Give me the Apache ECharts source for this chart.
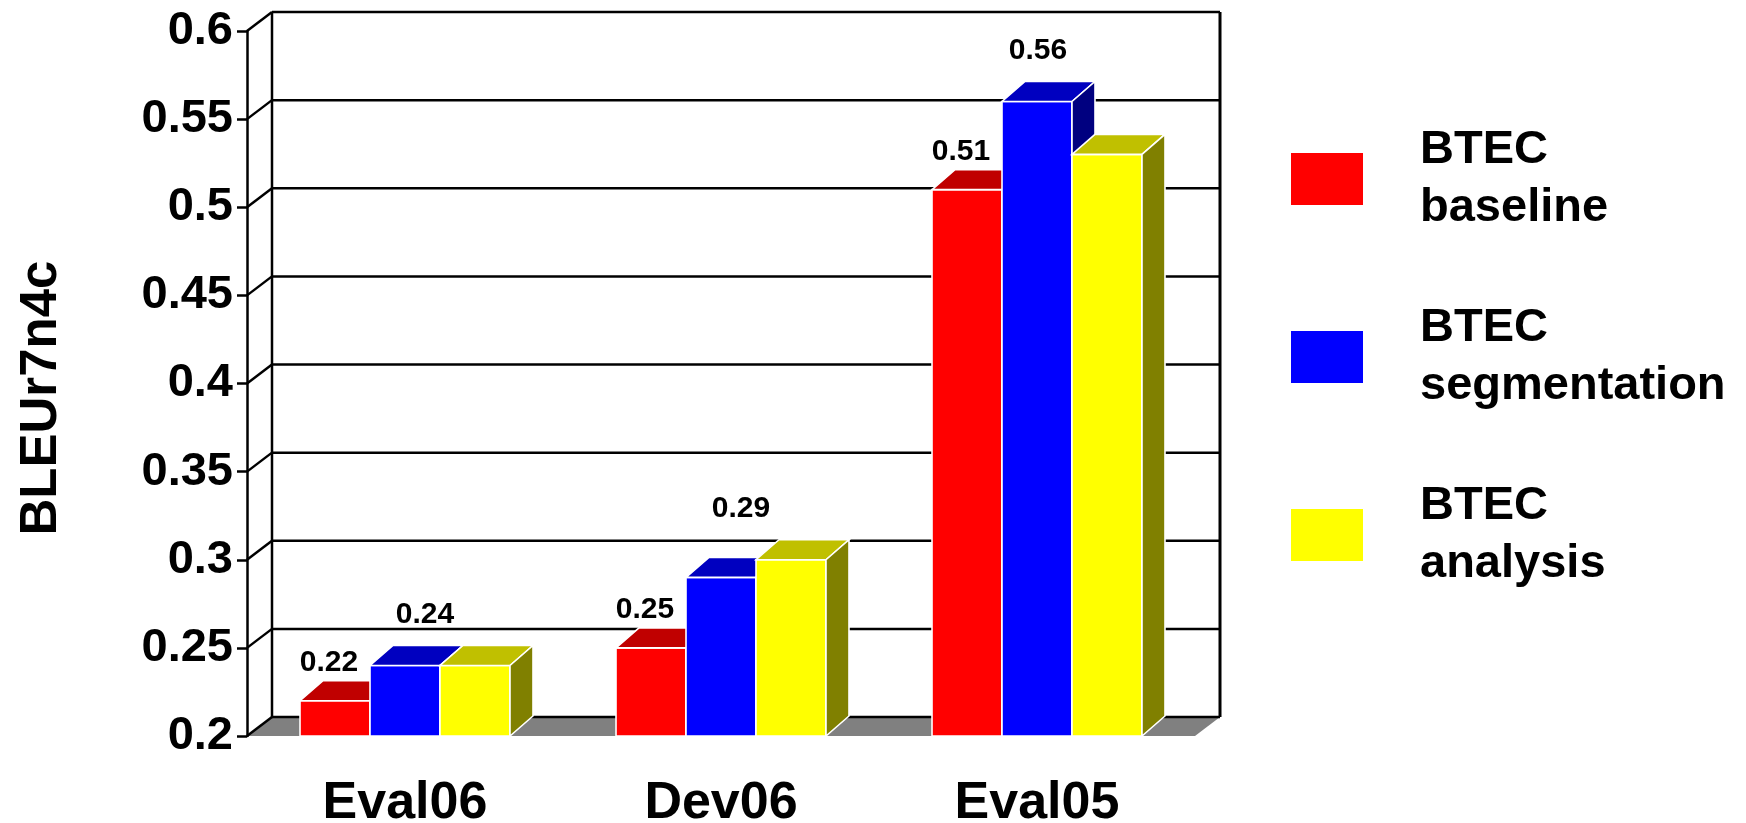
<!DOCTYPE html>
<html>
<head>
<meta charset="utf-8">
<script src="https://cdn.jsdelivr.net/npm/echarts@6/dist/echarts.min.js"></script>
<style>
  html, body { margin: 0; padding: 0; background: #ffffff; }
  #chart { width: 1746px; height: 823px; }
</style>
</head>
<body>
<div id="chart"></div>
<script>
// Test sets on the category axis
const categories = ['Eval06', 'Dev06', 'Eval05'];

// BLEU scores per system
const baseline = [0.22, 0.25, 0.51];
const segmentation = [0.24, 0.29, 0.56];
const analysis = [0.24, 0.30, 0.53];

// Value-axis ticks
const yTicks = [0.2, 0.25, 0.3, 0.35, 0.4, 0.45, 0.5, 0.55, 0.6];

const seriesNames = ['BTEC baseline', 'BTEC segmentation', 'BTEC analysis'];
const seriesValues = [baseline, segmentation, analysis];

const FONT = '"Liberation Sans", Arial, Helvetica, sans-serif';

// Depth offsets of the pseudo-3D box and of the bars
const WALL = { dx: 25, dy: -19 };
const BAR = { dx: 23, dy: -20 };
const BAR_FRAC = 0.2215;          // bar width as a share of one category band
const LINE = '#000000';

const palette = [
  { front: '#ff0000', top: '#c00000', side: '#800000' },
  { front: '#0000ff', top: '#0000c0', side: '#000080' },
  { front: '#ffff00', top: '#c0c000', side: '#808000' }
];

// Floor, back wall, its grid lines and the left side-wall connectors
function renderWalls(params, api) {
  const cs = params.coordSys;
  const x0 = cs.x, x1 = cs.x + cs.width;
  const yBottom = api.coord([0, yTicks[0]])[1];
  const yTop = api.coord([0, yTicks[yTicks.length - 1]])[1];
  const bx0 = x0 + WALL.dx, bx1 = x1 + WALL.dx;
  const lineStyle = { stroke: LINE, lineWidth: 2.5, fill: null };
  const children = [];

  children.push({
    type: 'polygon',
    shape: { points: [[x0, yBottom], [x1, yBottom], [bx1, yBottom + WALL.dy], [bx0, yBottom + WALL.dy]] },
    style: { fill: '#808080' }
  });

  yTicks.forEach(function (t) {
    const y = api.coord([0, t])[1];
    children.push({
      type: 'line',
      shape: { x1: bx0, y1: y + WALL.dy, x2: bx1, y2: y + WALL.dy },
      style: lineStyle
    });
    children.push({
      type: 'line',
      shape: { x1: x0, y1: y, x2: bx0, y2: y + WALL.dy },
      style: lineStyle
    });
  });

  children.push({
    type: 'line',
    shape: { x1: bx0, y1: yTop + WALL.dy, x2: bx0, y2: yBottom + WALL.dy },
    style: lineStyle
  });
  children.push({
    type: 'line',
    shape: { x1: bx1, y1: yTop + WALL.dy, x2: bx1, y2: yBottom + WALL.dy },
    style: { stroke: LINE, lineWidth: 3 }
  });

  return { type: 'group', children: children };
}

// One prism-shaped bar; value labels on the baseline and segmentation bars
function makeBarRenderer(si) {
  return function (params, api) {
    const ci = api.value(0);
    const v = api.value(1);
    const base = api.coord([ci, yTicks[0]]);
    const top = api.coord([ci, v]);
    const band = api.size([1, 0])[0];
    const w = band * BAR_FRAC;
    const xl = base[0] + (si - 1.5) * w;
    const xr = xl + w;
    const yt = top[1];
    const yb = base[1];
    const c = palette[si];
    const edge = { stroke: '#ffffff', lineWidth: 1.6 };
    const children = [
      {
        type: 'rect',
        shape: { x: xl, y: yt, width: w, height: yb - yt },
        style: Object.assign({ fill: c.front }, edge)
      },
      {
        type: 'polygon',
        shape: { points: [[xl, yt], [xr, yt], [xr + BAR.dx, yt + BAR.dy], [xl + BAR.dx, yt + BAR.dy]] },
        style: Object.assign({ fill: c.top }, edge)
      },
      {
        type: 'polygon',
        shape: { points: [[xr, yt], [xr + BAR.dx, yt + BAR.dy], [xr + BAR.dx, yb + BAR.dy], [xr, yb]] },
        style: Object.assign({ fill: c.side }, edge)
      }
    ];

    let label = null;
    const cx = (xl + xr) / 2;
    if (si === 0) {
      label = { x: cx - 6, y: yt + BAR.dy - 18 };
    } else if (si === 1) {
      // segmentation label sits over the taller of itself and the analysis bar
      const next = analysis[ci];
      const refY = api.coord([ci, Math.max(v, next)])[1];
      label = { x: cx + (next >= v ? 20 : 1), y: refY + BAR.dy - 31 };
    }
    if (label) {
      children.push({
        type: 'text',
        style: {
          text: v.toFixed(2),
          x: label.x,
          y: label.y,
          align: 'center',
          verticalAlign: 'middle',
          fontFamily: FONT,
          fontWeight: 'bold',
          fontSize: 30,
          fill: '#000000'
        }
      });
    }
    return { type: 'group', children: children };
  };
}

const chart = echarts.init(document.getElementById('chart'), null, { renderer: 'canvas' });

const series = [{
  type: 'custom',
  name: '_walls',
  silent: true,
  z: 1,
  renderItem: renderWalls,
  data: [[0, yTicks[0]]],
  clip: false
}];

seriesNames.forEach(function (name, si) {
  series.push({
    type: 'custom',
    name: name,
    z: 2,
    itemStyle: { color: palette[si].front },
    renderItem: makeBarRenderer(si),
    data: seriesValues[si].map(function (v, i) { return [i, v]; }),
    clip: false
  });
});

chart.setOption({
  animation: false,
  backgroundColor: '#ffffff',
  grid: { left: 247, right: 551, top: 31, bottom: 87, containLabel: false, outerBoundsMode: 'none' },
  xAxis: {
    type: 'category',
    data: categories,
    axisLine: { show: false },
    axisTick: { show: false },
    splitLine: { show: false },
    axisLabel: {
      color: '#000000',
      fontFamily: FONT,
      fontWeight: 'bold',
      fontSize: 52,
      margin: 42
    }
  },
  yAxis: {
    type: 'value',
    min: 0.2,
    max: 0.6,
    interval: 0.05,
    axisLine: { show: true, lineStyle: { color: LINE, width: 2.5 } },
    axisTick: { show: true, length: 10, lineStyle: { color: LINE, width: 2.5 } },
    splitLine: { show: false },
    axisLabel: {
      color: '#000000',
      fontFamily: FONT,
      fontWeight: 'bold',
      fontSize: 47,
      margin: 14,
      formatter: function (v) { return String(+v.toFixed(2)); }
    }
  },
  legend: {
    data: seriesNames,
    orient: 'vertical',
    left: 1291,
    top: 121,
    padding: 0,
    icon: 'rect',
    itemWidth: 72,
    itemHeight: 52,
    itemGap: 62,
    selectedMode: false,
    formatter: function (name) { return name.replace(' ', '\n'); },
    textStyle: {
      color: '#000000',
      fontFamily: FONT,
      fontWeight: 'bold',
      fontSize: 47,
      lineHeight: 58,
      padding: [0, 0, 0, 52]
    }
  },
  graphic: [{
    type: 'text',
    x: 42,
    y: 398,
    rotation: Math.PI / 2,
    style: {
      text: 'BLEUr7n4c',
      align: 'center',
      verticalAlign: 'middle',
      fontFamily: FONT,
      fontWeight: 'bold',
      fontSize: 51,
      fill: '#000000'
    }
  }],
  series: series
});
</script>
</body>
</html>
